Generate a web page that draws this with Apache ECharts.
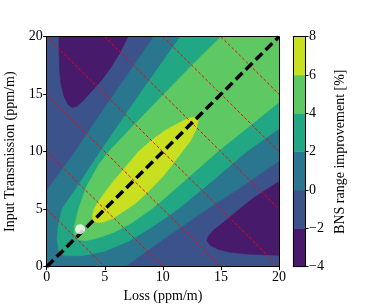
<!DOCTYPE html>
<html><head><meta charset="utf-8">
<script src="https://cdn.jsdelivr.net/npm/echarts@6/dist/echarts.min.js"></script>
<style>html,body{margin:0;padding:0;background:#fff}#c{width:374px;height:305px}</style>
</head><body><div id="c"></div>
<script>
// ---- data ----
const levels = [-4, -2, 0, 2, 4, 6, 8];
const bandColors = ['#481a6c', '#3b528b', '#2a768e', '#22a785', '#5ec962', '#c8e020'];
const axisTicks = [0, 5, 10, 15, 20];
const cbarTicks = [-4, -2, 0, 2, 4, 6, 8];
// whole domain (lowest visible background band -2..0)
const domainBox = [[0,0],[20,0],[20,20],[0,20]];
// contour regions: value < -2 (two lobes)
const purpleTopLeft = [[1.05,20],[1.07,18.5],[1.12,17.0],[1.25,15.8],[1.5,14.8],[1.85,14.1],[2.2,13.85],[2.6,13.95],[3.1,14.4],[3.9,15.3],[4.7,16.2],[5.5,17.3],[6.3,18.6],[7.0,20]];
const purpleBottomRight = [[20,1.0],[18.5,1.05],[17.0,1.12],[15.8,1.25],[14.8,1.5],[14.1,1.85],[13.8,2.25],[13.9,2.65],[14.4,3.2],[15.4,4.0],[16.6,5.0],[17.7,5.9],[18.9,6.7],[20,7.4]];
// superlevel regions value >= 0, 2, 4, 6
const regionGE0 = [[0,0],[0,6.6],[1.2,8.3],[2.45,10],[4.1,12.5],[5.8,15],[7.5,17.5],[9.2,20],[20,20],[20,9.2],[17.0,7.1],[13.8,5.0],[10.2,2.5],[8.4,1.2],[6.77,0]];
const regionGE2 = [[1.5,0.95],[1.05,1.4],[0.9,2.4],[1.0,3.6],[1.3,5.0],[2.6,6.9],[4.6,10.0],[8.0,15.0],[11.5,20],[20,20],[20,12.0],[17.2,10.0],[14.3,7.5],[11.3,5.0],[9.0,3.4],[7.0,2.2],[5.0,1.35],[3.0,0.95]];
const regionGE4 = [[2.6,2.4],[2.35,2.9],[2.4,3.6],[2.74,5.0],[3.4,6.9],[4.5,8.9],[5.33,10.0],[7.5,12.3],[10.0,14.9],[12.5,17.5],[15.0,20],[20,20],[20,14.3],[17.3,12.1],[14.7,10.0],[12.0,7.6],[10.2,6.0],[9.0,5.0],[7.3,3.8],[5.8,3.0],[4.4,2.5],[3.3,2.25]];
const regionGE6 = [[3.95,4.0],[3.95,4.55],[4.1,5.05],[4.45,5.65],[4.9,6.3],[5.8,7.5],[6.9,8.8],[7.95,10.05],[9.1,11.05],[10.2,11.85],[11.3,12.45],[12.2,12.9],[12.95,13.05],[13.05,12.7],[12.85,11.9],[12.35,10.9],[11.65,10.0],[10.9,9.0],[10.0,7.85],[8.9,6.7],[7.7,5.55],[6.6,4.8],[5.7,4.2],[4.9,3.88],[4.3,3.85]];
// overlays
const diagonalLine = [[0,0],[20,20]];
const sumLevels = [5, 10, 15, 20, 25, 30, 35];   // red dashed lines: loss + transmission = const
const operatingPoint = [[2.88, 3.25]];

// ---- chart ----
const FONT = 'Liberation Serif';
const chart = echarts.init(document.getElementById('c'), null, {renderer: 'canvas'});

function polySeries(poly, color, z) {
  return {
    type: 'custom', xAxisIndex: 0, yAxisIndex: 0, z: z, silent: true, clip: true,
    data: [[0]],
    renderItem: function (params, api) {
      return {type: 'polygon', shape: {points: poly.map(p => api.coord(p))},
        style: {fill: color, stroke: color, lineWidth: 0.6}};
    }
  };
}
const lineSeries = sumLevels.map(c => ({
  type: 'line', xAxisIndex: 0, yAxisIndex: 0, z: 8, silent: true, symbol: 'none',
  data: [[Math.max(0, c - 20), Math.min(20, c)], [Math.min(20, c), Math.max(0, c - 20)]],
  lineStyle: {color: '#ff0000', width: 1, type: [3, 2]}
}));
const minus = v => (v < 0 ? '\u2212' + Math.abs(v) : String(v));
const lineOnly = {show: true, onZero: false, lineStyle: {color: '#000', width: 1}};

chart.setOption({
  animation: false,
  textStyle: {fontFamily: FONT},
  grid: [
    {left: 46.7, top: 36.7, width: 232.3, height: 230, containLabel: false, outerBoundsMode: 'none'},
    {left: 293.3, top: 36.7, width: 11.7, height: 230, containLabel: false, outerBoundsMode: 'none'}
  ],
  xAxis: [
    {gridIndex: 0, type: 'value', min: 0, max: 20, interval: 5, position: 'bottom', z: 10,
      axisLine: lineOnly, axisTick: {show: true, length: 3.5, lineStyle: {color: '#000'}},
      axisLabel: {color: '#000', fontSize: 14, margin: 4, fontFamily: FONT},
      splitLine: {show: false},
      name: 'Loss (ppm/m)', nameLocation: 'middle', nameGap: 22,
      nameTextStyle: {color: '#000', fontSize: 14, fontFamily: FONT}},
    {gridIndex: 0, type: 'value', min: 0, max: 20, position: 'top', z: 10,
      axisLine: lineOnly, axisTick: {show: false}, axisLabel: {show: false}, splitLine: {show: false}},
    {gridIndex: 1, type: 'value', min: 0, max: 1, position: 'bottom', z: 10,
      axisLine: lineOnly, axisTick: {show: false}, axisLabel: {show: false}, splitLine: {show: false}},
    {gridIndex: 1, type: 'value', min: 0, max: 1, position: 'top', z: 10,
      axisLine: lineOnly, axisTick: {show: false}, axisLabel: {show: false}, splitLine: {show: false}}
  ],
  yAxis: [
    {gridIndex: 0, type: 'value', min: 0, max: 20, interval: 5, position: 'left', z: 10,
      axisLine: lineOnly, axisTick: {show: true, length: 3.5, lineStyle: {color: '#000'}},
      axisLabel: {color: '#000', fontSize: 14, margin: 4, fontFamily: FONT},
      splitLine: {show: false},
      name: 'Input Transmission (ppm/m)', nameLocation: 'middle', nameGap: 26,
      nameTextStyle: {color: '#000', fontSize: 14, fontFamily: FONT}},
    {gridIndex: 0, type: 'value', min: 0, max: 20, position: 'right', z: 10,
      axisLine: lineOnly, axisTick: {show: false}, axisLabel: {show: false}, splitLine: {show: false}},
    {gridIndex: 1, type: 'value', min: -4, max: 8, interval: 2, position: 'right', z: 10,
      axisLine: lineOnly, axisTick: {show: true, length: 3.5, lineStyle: {color: '#000'}},
      axisLabel: {color: '#000', fontSize: 14, margin: 4, fontFamily: FONT, formatter: minus},
      splitLine: {show: false},
      name: 'BNS range improvement [%]', nameLocation: 'middle', nameGap: 28, nameRotate: 90,
      nameTextStyle: {color: '#000', fontSize: 14, fontFamily: FONT}},
    {gridIndex: 1, type: 'value', min: -4, max: 8, position: 'left', z: 10,
      axisLine: lineOnly, axisTick: {show: false}, axisLabel: {show: false}, splitLine: {show: false}}
  ],
  series: [
    polySeries(domainBox, bandColors[1], 1),
    polySeries(purpleTopLeft, bandColors[0], 2),
    polySeries(purpleBottomRight, bandColors[0], 2),
    polySeries(regionGE0, bandColors[2], 3),
    polySeries(regionGE2, bandColors[3], 4),
    polySeries(regionGE4, bandColors[4], 5),
    polySeries(regionGE6, bandColors[5], 6),
    ...lineSeries,
    {type: 'line', xAxisIndex: 0, yAxisIndex: 0, z: 9, silent: true, symbol: 'none',
      data: diagonalLine, lineStyle: {color: '#000', width: 3.5, type: [9.5, 4.5]}},
    {type: 'scatter', xAxisIndex: 0, yAxisIndex: 0, z: 11, silent: true,
      data: operatingPoint, symbolSize: 10, itemStyle: {color: '#fff'}},
    {type: 'custom', xAxisIndex: 2, yAxisIndex: 2, z: 3, silent: true,
      data: bandColors.map((c, i) => [i]),
      renderItem: function (params, api) {
        const i = api.value(0);
        const p1 = api.coord([0, levels[i + 1]]);
        const p2 = api.coord([1, levels[i]]);
        return {type: 'rect', shape: {x: p1[0], y: p1[1], width: p2[0] - p1[0], height: p2[1] - p1[1]},
          style: {fill: bandColors[i], stroke: bandColors[i], lineWidth: 0.5}};
      }}
  ]
});
</script></body></html>
